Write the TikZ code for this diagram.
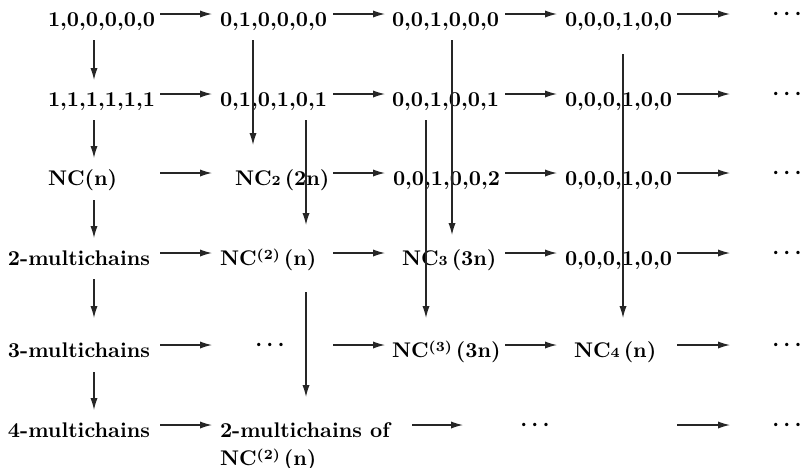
\documentclass[tikz,border=0pt]{standalone}
\usetikzlibrary{arrows.meta,calc}
\newcommand\sbx[1]{{\fontsize{7}{8}\selectfont #1}}
\newcommand\spx[1]{\raisebox{2.8pt}{\fontsize{7}{8}\selectfont #1}}
\newcommand\gp{\kern2pt}
\begin{document}
\begin{tikzpicture}[x=0.5pt,y=-0.5pt,
  cell/.style={anchor=base west, inner sep=0pt, outer sep=0pt, text height=12pt, text depth=0pt,
    font=\fontsize{10.6}{14}\selectfont\bfseries},
  cellml/.style={anchor=north west, inner sep=0pt, outer sep=0pt, align=left,
    font=\fontsize{10.6}{14}\selectfont\bfseries},
  dotsn/.style={anchor=base, inner sep=0pt, outer sep=0pt, font=\fontsize{11}{14}\selectfont\boldmath},
  arr/.style={-{Latex[length=6pt,width=3.6pt]}, line width=0.6pt, draw=black!85}]
\useasboundingbox (0,0) rectangle (803,467);
% column x positions for arrows
\coordinate (a1) at (160,0); \coordinate (a2) at (212,0);
\coordinate (b1) at (333,0); \coordinate (b2) at (385,0);
\coordinate (c1) at (505,0); \coordinate (c2) at (557,0);
\coordinate (d1) at (677,0); \coordinate (d2) at (730,0);
\coordinate (e1) at (412,0); \coordinate (e2) at (463,0);
\coordinate (v1) at (94,0);  \coordinate (v2) at (253,0);
\coordinate (v3) at (306,0); \coordinate (v4) at (452,0);
\coordinate (v5) at (426,0); \coordinate (v6) at (623,0);
% row 1
\node[cell] (r1c1) at (48,26) {1,0,0,0,0,0};
\node[cell] (r1c2) at (220,26) {0,1,0,0,0,0};
\node[cell] (r1c3) at (392,26) {0,0,1,0,0,0};
\node[cell] (r1c4) at (565,26) {0,0,0,1,0,0};
\node[dotsn] (r1c5) at (787,19.5) {$\cdots$};
% row 2
\node[cell] (r2c1) at (48,106) {1,1,1,1,1,1};
\node[cell] (r2c2) at (220,106) {0,1,0,1,0,1};
\node[cell] (r2c3) at (392,106) {0,0,1,0,0,1};
\node[cell] (r2c4) at (565,106) {0,0,0,1,0,0};
\node[dotsn] (r2c5) at (787,99.5) {$\cdots$};
% row 3
\node[cell] (r3c1) at (48,185) {NC(n)};
\node[cell] (r3c2) at (235,185) {NC\sbx{2}\gp(2n)};
\node[cell] (r3c3) at (393,185) {0,0,1,0,0,2};
\node[cell] (r3c4) at (565,185) {0,0,0,1,0,0};
\node[dotsn] (r3c5) at (787,178.5) {$\cdots$};
% row 4
\node[cell] (r4c1) at (8,265) {2-multichains};
\node[cell] (r4c2) at (220,265) {NC\spx{(2)}\gp(n)};
\node[cell] (r4c3) at (402,265) {NC\sbx{3}\gp(3n)};
\node[cell] (r4c4) at (565,265) {0,0,0,1,0,0};
\node[dotsn] (r4c5) at (787,258.5) {$\cdots$};
% row 5
\node[cell] (r5c1) at (8,357) {3-multichains};
\node[dotsn] (r5c2) at (270,350.5) {$\cdots$};
\node[cell] (r5c3) at (392,357) {NC\spx{(3)}\gp(3n)};
\node[cell] (r5c4) at (574,357) {NC\sbx{4}\gp(n)};
\node[dotsn] (r5c5) at (787,350.5) {$\cdots$};
% row 6
\node[cell] (r6c1) at (8,437) {4-multichains};
\node[cellml] (r6c2) at (220,422.4) {2-multichains of\\NC\spx{(2)}\gp(n)};
\node[dotsn] (r6c3) at (535,430.5) {$\cdots$};
\node[dotsn] (r6c5) at (787,430.5) {$\cdots$};
% horizontal arrows rows 1-4
\foreach \r in {1,2,3,4}{
  \draw[arr] (r\r c1.east -| a1) -- (r\r c2.west -| a2);
  \draw[arr] (r\r c2.east -| b1) -- (r\r c3.west -| b2);
  \draw[arr] (r\r c3.east -| c1) -- (r\r c4.west -| c2);
  \draw[arr] (r\r c4.east -| d1) -- (r\r c4.east -| d2);
}
% row 5
\draw[arr] (r5c1.east -| a1) -- (r5c1.east -| a2);
\draw[arr] (r5c3.west -| b1) -- (r5c3.west -| b2);
\draw[arr] (r5c3.east -| c1) -- (r5c4.west -| c2);
\draw[arr] (r5c4.east -| d1) -- (r5c4.east -| d2);
% row 6
\draw[arr] (r6c1.east -| a1) -- (r6c1.east -| a2);
\draw[arr] (r6c1.east -| e1) -- (r6c1.east -| e2);
\draw[arr] (r6c1.east -| d1) -- (r6c1.east -| d2);
% vertical arrows, column 1
\draw[arr] ($(r1c1.south -| v1)+(0,14)$) -- ($(r2c1.north -| v1)+(0,-2)$);
\draw[arr] ($(r2c1.south -| v1)+(0,14)$) -- ($(r3c1.north -| v1)+(0,-3)$);
\draw[arr] ($(r3c1.south -| v1)+(0,15)$) -- ($(r4c1.north -| v1)+(0,-3)$);
\draw[arr] ($(r4c1.south -| v1)+(0,14)$) -- ($(r5c1.north -| v1)+(0,-15)$);
\draw[arr] ($(r5c1.south -| v1)+(0,15)$) -- ($(r6c1.north -| v1)+(0,-3)$);
% long vertical arrows
\draw[arr] ($(r1c2.south -| v2)+(0,14)$) -- ($(r3c2.north -| v2)+(0,-16)$);
\draw[arr] ($(r2c2.south -| v3)+(0,14)$) -- ($(r4c2.north -| v3)+(0,-16)$);
\draw[arr] ($(r1c3.south -| v4)+(0,14)$) -- ($(r4c3.north -| v4)+(0,-6)$);
\draw[arr] ($(r2c3.south -| v5)+(0,14)$) -- ($(r5c3.north -| v5)+(0,-15)$);
\draw[arr] ($(r1c4.south -| v6)+(0,28)$) -- ($(r5c4.north -| v6)+(0,-15)$);
\draw[arr] ($(r4c2.south -| v3)+(0,27)$) -- ($(r6c1.north -| v3)+(0,-16)$);
\end{tikzpicture}
\end{document}
